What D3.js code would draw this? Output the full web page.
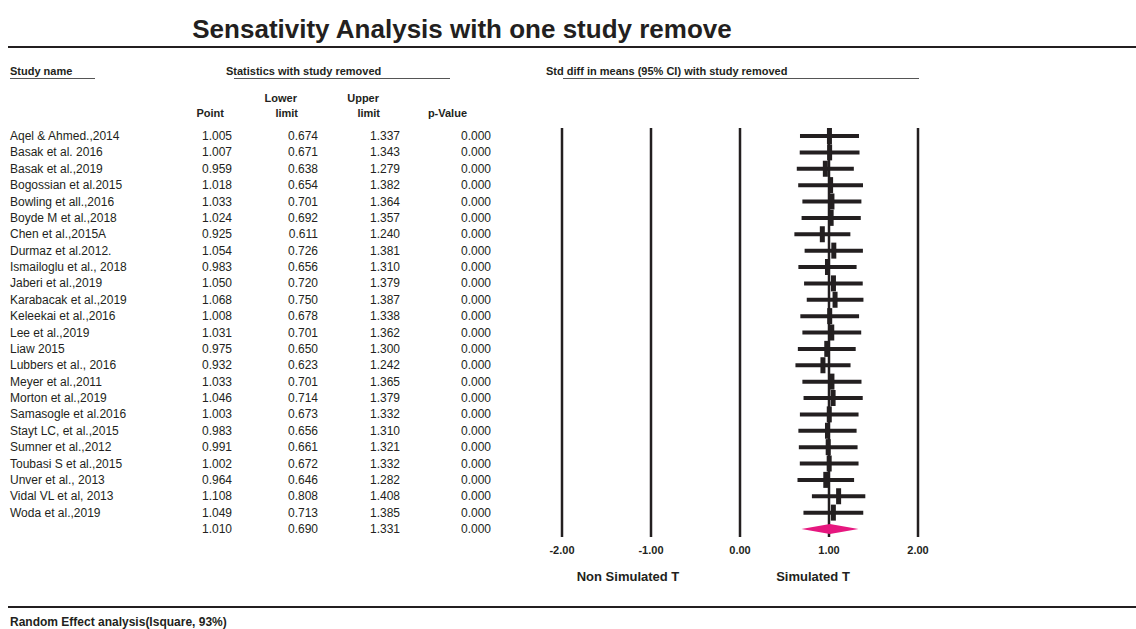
<!DOCTYPE html>
<meta charset="utf-8">
<script src="https://d3js.org/d3.v7.min.js"></script>
<style>
  body { margin: 0; background: #fff; }
  text { font-family: Arial, "Liberation Sans", sans-serif; fill: #231f20; }
</style>
<body>
<div id="my_dataviz"></div>
<script>

// study names and statistics with each study removed
var studies = ["Aqel & Ahmed.,2014", "Basak et al. 2016", "Basak et al.,2019", "Bogossian et al.2015",
  "Bowling et all.,2016", "Boyde M et al.,2018", "Chen et al.,2015A", "Durmaz et al.2012.",
  "Ismailoglu et al., 2018", "Jaberi et al.,2019", "Karabacak et al.,2019", "Keleekai et al.,2016",
  "Lee et al.,2019", "Liaw 2015", "Lubbers et al., 2016", "Meyer et al.,2011", "Morton et al.,2019",
  "Samasogle et al.2016", "Stayt LC, et al.,2015", "Sumner et al.,2012", "Toubasi S et al.,2015",
  "Unver et al., 2013", "Vidal VL et al, 2013", "Woda et al.,2019"];
var point = [1.005, 1.007, 0.959, 1.018, 1.033, 1.024, 0.925, 1.054, 0.983, 1.050, 1.068, 1.008,
  1.031, 0.975, 0.932, 1.033, 1.046, 1.003, 0.983, 0.991, 1.002, 0.964, 1.108, 1.049];
var lower = [0.674, 0.671, 0.638, 0.654, 0.701, 0.692, 0.611, 0.726, 0.656, 0.720, 0.750, 0.678,
  0.701, 0.650, 0.623, 0.701, 0.714, 0.673, 0.656, 0.661, 0.672, 0.646, 0.808, 0.713];
var upper = [1.337, 1.343, 1.279, 1.382, 1.364, 1.357, 1.240, 1.381, 1.310, 1.379, 1.387, 1.338,
  1.362, 1.300, 1.242, 1.365, 1.379, 1.332, 1.310, 1.321, 1.332, 1.282, 1.408, 1.385];
var pValue = [0, 0, 0, 0, 0, 0, 0, 0, 0, 0, 0, 0, 0, 0, 0, 0, 0, 0, 0, 0, 0, 0, 0, 0];
// overall (pooled) estimate
var summary = { point: 1.010, lower: 0.690, upper: 1.331, p: 0.000 };
var ticks = [-2, -1, 0, 1, 2];

var width = 1136, height = 629;
var svg = d3.select("#my_dataviz").append("svg")
  .attr("width", width).attr("height", height);

var data = studies.map(function (s, i) {
  return { name: s, point: point[i], lower: lower[i], upper: upper[i], p: pValue[i] };
});
var rows = data.concat([{ name: "", point: summary.point, lower: summary.lower, upper: summary.upper, p: summary.p }]);

// scales
var y = d3.scaleLinear().domain([0, rows.length - 1]).range([136, 529]);
var x = d3.scaleLinear().domain([-2, 2]).range([562, 918]);
var fmt = d3.format(".3f");

// title
svg.append("text")
  .attr("x", 462).attr("y", 38)
  .attr("text-anchor", "middle")
  .style("font-size", "26px").style("font-weight", "bold")
  .text("Sensativity Analysis with one study remove");
svg.append("line").attr("x1", 8).attr("x2", width).attr("y1", 47).attr("y2", 47)
  .attr("stroke", "#231f20").attr("stroke-width", 2);

// group headers with underlines
var heads = [
  { t: "Study name", x: 10, u1: 10, u2: 95 },
  { t: "Statistics with study removed", x: 226, u1: 234, u2: 450 },
  { t: "Std diff in means (95% CI) with study removed", x: 546, u1: 563, u2: 919 }
];
heads.forEach(function (h) {
  svg.append("text").attr("x", h.x).attr("y", 75)
    .style("font-size", "11px").style("font-weight", "bold").text(h.t);
  svg.append("line").attr("x1", h.u1).attr("x2", h.u2).attr("y1", 78.5).attr("y2", 78.5)
    .attr("stroke", "#555").attr("stroke-width", 1);
});

// column headers
var colHeads = [
  { l1: "", l2: "Point", x: 224 },
  { l1: "Lower", l2: "limit", x: 298 },
  { l1: "Upper", l2: "limit", x: 380 },
  { l1: "", l2: "p-Value", x: 467 }
];
colHeads.forEach(function (c) {
  var t = svg.append("text").attr("text-anchor", "end")
    .style("font-size", "11px").style("font-weight", "bold");
  t.append("tspan").attr("x", c.x - (c.l1 ? 1 : 0)).attr("y", 102).text(c.l1);
  t.append("tspan").attr("x", c.x).attr("y", 117).text(c.l2);
});

// table rows
var cols = [
  { key: "point", x: 232, f: fmt },
  { key: "lower", x: 318, f: fmt },
  { key: "upper", x: 400, f: fmt },
  { key: "p", x: 491, f: fmt }
];
var rowG = svg.selectAll(".row").data(rows).enter().append("g")
  .attr("transform", function (d, i) { return "translate(0," + (y(i) + 4) + ")"; });
rowG.append("text").attr("x", 10).style("font-size", "12px").text(function (d) { return d.name; });
cols.forEach(function (c) {
  rowG.append("text").attr("x", c.x).attr("text-anchor", "end").style("font-size", "12px")
    .text(function (d) { return c.f(d[c.key]); });
});

// reference lines
svg.selectAll(".vline").data(ticks).enter().append("line")
  .attr("x1", function (d) { return x(d); }).attr("x2", function (d) { return x(d); })
  .attr("y1", 128).attr("y2", 537)
  .attr("stroke", "#231f20").attr("stroke-width", 2.5);

// axis labels
svg.selectAll(".tick").data(ticks).enter().append("text")
  .attr("x", function (d) { return x(d); }).attr("y", 554)
  .attr("text-anchor", "middle").style("font-size", "11px").style("font-weight", "bold")
  .text(function (d) { return d.toFixed(2); });
svg.append("text").attr("x", 628).attr("y", 581).attr("text-anchor", "middle")
  .style("font-size", "13px").style("font-weight", "bold").text("Non Simulated T");
svg.append("text").attr("x", 813).attr("y", 581).attr("text-anchor", "middle")
  .style("font-size", "13px").style("font-weight", "bold").text("Simulated T");

// CI lines and boxes
var study = svg.selectAll(".study").data(data).enter().append("g");
study.append("line")
  .attr("x1", function (d) { return x(d.lower); }).attr("x2", function (d) { return x(d.upper); })
  .attr("y1", function (d, i) { return y(i); }).attr("y2", function (d, i) { return y(i); })
  .attr("stroke", "#231f20").attr("stroke-width", 4);
study.append("rect")
  .attr("x", function (d) { return x(d.point) - 2.5; })
  .attr("y", function (d, i) { return y(i) - 8; })
  .attr("width", 5).attr("height", 16)
  .attr("fill", "#231f20");

// summary diamond
var ys = y(rows.length - 1);
svg.append("path")
  .attr("d", "M" + x(summary.lower) + "," + ys +
    "L" + x(summary.point) + "," + (ys - 5) +
    "L" + x(summary.upper) + "," + ys +
    "L" + x(summary.point) + "," + (ys + 5) + "Z")
  .attr("fill", "#e6177f");

// footer
svg.append("line").attr("x1", 8).attr("x2", width).attr("y1", 607).attr("y2", 607)
  .attr("stroke", "#231f20").attr("stroke-width", 2);
svg.append("text").attr("x", 10).attr("y", 626)
  .style("font-size", "12px").style("font-weight", "bold")
  .text("Random Effect analysis(Isquare, 93%)");

</script>
</body>
